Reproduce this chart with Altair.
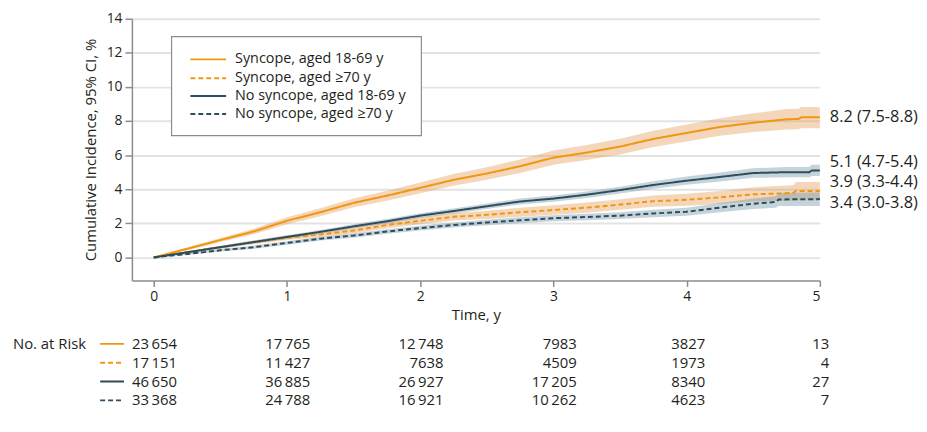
import altair as alt
import pandas as pd

# ---------------- data ----------------
SERIES = ["Syncope, aged 18-69 y", "Syncope, aged ≥70 y",
          "No syncope, aged 18-69 y", "No syncope, aged ≥70 y"]

t_s18 = [0, 0.25, 0.5, 0.75, 1, 1.25, 1.5, 1.75, 2, 2.25, 2.5, 2.75, 3, 3.25, 3.5, 3.75, 4, 4.25, 4.5, 4.75, 4.84, 4.86, 5]
v_s18 = [0, 0.5, 1.02, 1.52, 2.15, 2.65, 3.2, 3.62, 4.08, 4.55, 4.92, 5.35, 5.85, 6.15, 6.5, 6.95, 7.3, 7.65, 7.9, 8.1, 8.12, 8.22, 8.22]
lo_s18 = [0, 0.42, 0.9, 1.36, 1.95, 2.42, 2.94, 3.33, 3.76, 4.2, 4.55, 4.95, 5.43, 5.71, 6.04, 6.47, 6.8, 7.13, 7.35, 7.5, 7.52, 7.58, 7.58]
hi_s18 = [0, 0.58, 1.14, 1.68, 2.35, 2.88, 3.46, 3.91, 4.4, 4.9, 5.29, 5.75, 6.27, 6.59, 6.96, 7.43, 7.8, 8.17, 8.45, 8.7, 8.72, 8.82, 8.82]

t_s70 = [0, 0.25, 0.5, 0.75, 1, 1.25, 1.5, 1.75, 2, 2.25, 2.5, 2.75, 3, 3.25, 3.5, 3.75, 4, 4.25, 4.5, 4.8, 4.82, 5]
v_s70 = [0, 0.3, 0.6, 0.88, 1.15, 1.35, 1.58, 1.9, 2.15, 2.38, 2.5, 2.65, 2.78, 2.92, 3.1, 3.3, 3.38, 3.52, 3.7, 3.78, 3.9, 3.9]
lo_s70 = [0, 0.24, 0.51, 0.77, 1.02, 1.2, 1.41, 1.71, 1.95, 2.16, 2.26, 2.39, 2.5, 2.62, 2.79, 2.97, 3.03, 3.14, 3.28, 3.33, 3.36, 3.36]
hi_s70 = [0, 0.36, 0.69, 0.99, 1.28, 1.5, 1.75, 2.09, 2.35, 2.6, 2.74, 2.91, 3.06, 3.22, 3.41, 3.63, 3.73, 3.9, 4.12, 4.23, 4.42, 4.42]

t_n18 = [0, 0.25, 0.5, 0.75, 1, 1.25, 1.5, 1.75, 2, 2.25, 2.5, 2.75, 3, 3.25, 3.5, 3.75, 4, 4.25, 4.5, 4.75, 4.92, 4.94, 5]
v_n18 = [0, 0.3, 0.6, 0.9, 1.2, 1.5, 1.82, 2.12, 2.45, 2.72, 3.0, 3.28, 3.45, 3.68, 3.95, 4.25, 4.5, 4.72, 4.95, 5.0, 5.0, 5.1, 5.1]
lo_n18 = [0, 0.25, 0.53, 0.81, 1.1, 1.39, 1.7, 1.99, 2.31, 2.57, 2.84, 3.11, 3.27, 3.49, 3.75, 4.03, 4.26, 4.46, 4.67, 4.7, 4.7, 4.77, 4.77]
hi_n18 = [0, 0.35, 0.67, 0.99, 1.3, 1.61, 1.94, 2.25, 2.59, 2.87, 3.16, 3.45, 3.63, 3.87, 4.15, 4.47, 4.74, 4.98, 5.23, 5.3, 5.3, 5.43, 5.43]

t_n70 = [0, 0.25, 0.5, 0.75, 1, 1.25, 1.5, 1.75, 2, 2.25, 2.5, 2.75, 3, 3.25, 3.5, 3.75, 4, 4.25, 4.5, 4.67, 4.69, 5]
v_n70 = [0, 0.2, 0.42, 0.6, 0.85, 1.1, 1.28, 1.52, 1.72, 1.9, 2.05, 2.18, 2.3, 2.37, 2.45, 2.58, 2.68, 2.92, 3.15, 3.25, 3.4, 3.42]
lo_n70 = [0, 0.15, 0.35, 0.51, 0.75, 0.99, 1.16, 1.39, 1.58, 1.75, 1.89, 2.01, 2.12, 2.18, 2.25, 2.36, 2.44, 2.65, 2.84, 2.91, 3.02, 3.02]
hi_n70 = [0, 0.25, 0.49, 0.69, 0.95, 1.21, 1.4, 1.65, 1.86, 2.05, 2.21, 2.35, 2.48, 2.56, 2.65, 2.8, 2.92, 3.19, 3.46, 3.59, 3.78, 3.82]

risk_times = [0, 1, 2, 3, 4, 5]
risk_s18 = [23654, 17765, 12748, 7983, 3827, 13]
risk_s70 = [17151, 11427, 7638, 4509, 1973, 4]
risk_n18 = [46650, 36885, 26927, 17205, 8340, 27]
risk_n70 = [33368, 24788, 16921, 10262, 4623, 7]

end_values = [8.2, 5.1, 3.9, 3.4]
end_labels = ["8.2 (7.5-8.8)", "5.1 (4.7-5.4)", "3.9 (3.3-4.4)", "3.4 (3.0-3.8)"]

y_ticks = [0, 2, 4, 6, 8, 10, 12, 14]

# ---------------- styling ----------------
FONT = "Open Sans"
FS_TABLE = 15
FS_LEG = 14.5
FS_END = 16.5
TXT = "#231f20"
ORANGE = "#F0960F"
SLATE = "#2E4C5B"
BAND_OR = "#E39A55"
BAND_SL = "#6F93A6"
SER_COLORS = [ORANGE, ORANGE, SLATE, SLATE]
BAND_COLORS = [BAND_OR, BAND_OR, BAND_SL, BAND_SL]
SER_DASH = [[1, 0], [5, 3], [1, 0], [5, 3]]

curves = [(t_s18, v_s18, lo_s18, hi_s18), (t_s70, v_s70, lo_s70, hi_s70),
          (t_n18, v_n18, lo_n18, hi_n18), (t_n70, v_n70, lo_n70, hi_n70)]
frames = []
for name, (ts, vs, los, his) in zip(SERIES, curves):
    frames.append(pd.DataFrame({"series": name, "t": ts, "v": vs, "lo": los, "hi": his}))

xscale = alt.Scale(domain=[-0.164, 5], nice=False, zero=False)
yscale = alt.Scale(domain=[-1.35, 14], nice=False, zero=False)

x_axis = alt.Axis(values=risk_times, format="d", title="Time, y")
y_axis = alt.Axis(values=y_ticks, title="Cumulative Incidence, 95% CI, %")

layers = []
# confidence bands (one area per series)
for k, fr in enumerate(frames):
    layers.append(
        alt.Chart(fr).mark_area(opacity=0.4, color=BAND_COLORS[k]).encode(
            x=alt.X("t:Q", scale=xscale, axis=x_axis),
            y=alt.Y("lo:Q", scale=yscale, axis=y_axis),
            y2="hi:Q",
        )
    )

curve_df = pd.concat(frames, ignore_index=True)
layers.append(
    alt.Chart(curve_df).mark_line(strokeWidth=2).encode(
        x=alt.X("t:Q", scale=xscale, axis=x_axis),
        y=alt.Y("v:Q", scale=yscale, axis=y_axis),
        color=alt.Color("series:N", scale=alt.Scale(domain=SERIES, range=SER_COLORS), legend=None),
        strokeDash=alt.StrokeDash("series:N", scale=alt.Scale(domain=SERIES, range=SER_DASH), legend=None),
    )
)

label_dy = [-1, -9, -9, 3.5]
for val, lab, dy in zip(end_values, end_labels, label_dy):
    layers.append(
        alt.Chart(pd.DataFrame({"t": [risk_times[-1]], "v": [val], "lab": [lab]}))
        .mark_text(align="left", baseline="middle", dx=10, dy=dy, fontSize=FS_END, font=FONT, color=TXT)
        .encode(x=alt.X("t:Q", scale=xscale, axis=x_axis), y=alt.Y("v:Q", scale=yscale, axis=y_axis), text="lab:N")
    )

# ---------------- legend box (pixel placement inside plot area) ----------------
layers.append(
    alt.Chart(pd.DataFrame({"k": [0]}))
    .mark_rect(fill="white", stroke="#8C8C8C", strokeWidth=1.2)
    .encode(x=alt.value(40), x2=alt.value(292), y=alt.value(18), y2=alt.value(118))
)
LEG_Y = [41, 60, 78, 96]
for ri, name in enumerate(SERIES):
    layers.append(
        alt.Chart(pd.DataFrame({"k": [ri]}))
        .mark_rule(strokeWidth=2, color=SER_COLORS[ri], strokeDash=SER_DASH[ri])
        .encode(x=alt.value(59), x2=alt.value(95), y=alt.value(LEG_Y[ri]))
    )
    layers.append(
        alt.Chart(pd.DataFrame({"txt": [name]}))
        .mark_text(align="left", baseline="middle", fontSize=FS_LEG, font=FONT, color=TXT)
        .encode(x=alt.value(104), y=alt.value(LEG_Y[ri]), text="txt:N")
    )

# ---------------- risk table ----------------
def fmt(n):
    return f"{n:,}".replace(",", "\u2009") if n >= 10000 else str(n)

risk_sets = [risk_s18, risk_s70, risk_n18, risk_n70]
ROW_Y = [328, 347, 366, 385]
for ci, t in enumerate(risk_times):
    ndig = max(len(str(r[ci])) for r in risk_sets)
    for ri, r in enumerate(risk_sets):
        layers.append(
            alt.Chart(pd.DataFrame({"t": [t], "txt": [fmt(r[ci])]}))
            .mark_text(align="right", baseline="middle", dx=4.7 * ndig,
                       fontSize=FS_TABLE, font=FONT, color=TXT)
            .encode(x=alt.X("t:Q", scale=xscale, axis=x_axis), y=alt.value(ROW_Y[ri]), text="txt:N")
        )

layers.append(
    alt.Chart(pd.DataFrame({"txt": ["No. at Risk"]}))
    .mark_text(align="left", baseline="middle", fontSize=FS_TABLE, font=FONT, color=TXT)
    .encode(x=alt.value(-120), y=alt.value(ROW_Y[0]), text="txt:N")
)
for ri in range(4):
    layers.append(
        alt.Chart(pd.DataFrame({"k": [ri]}))
        .mark_rule(strokeWidth=2, color=SER_COLORS[ri], strokeDash=SER_DASH[ri])
        .encode(x=alt.value(-32), x2=alt.value(-8), y=alt.value(ROW_Y[ri]))
    )

chart = (
    alt.layer(*layers)
    .properties(width=694, height=264,
                autosize=alt.AutoSizeParams(type="none"),
                padding={"left": 125, "top": 9, "right": 100, "bottom": 143})
    .configure_view(stroke=None)
    .configure_axis(labelFont=FONT, titleFont=FONT, labelFontSize=14, titleFontSize=15,
                    titleFontWeight="normal", labelColor=TXT, titleColor=TXT,
                    domainColor="#8C8C8C", domainWidth=1.5, tickColor="#8C8C8C",
                    tickWidth=1.5, labelPadding=3)
    .configure_axisY(grid=True, gridColor="#E3E3E3", gridWidth=2, tickSize=7, titlePadding=8)
    .configure_axisX(grid=False, tickSize=6, titlePadding=4)
    .configure_text(font=FONT)
)

chart.save("out.html", embed_options={"renderer": "svg", "actions": False})
